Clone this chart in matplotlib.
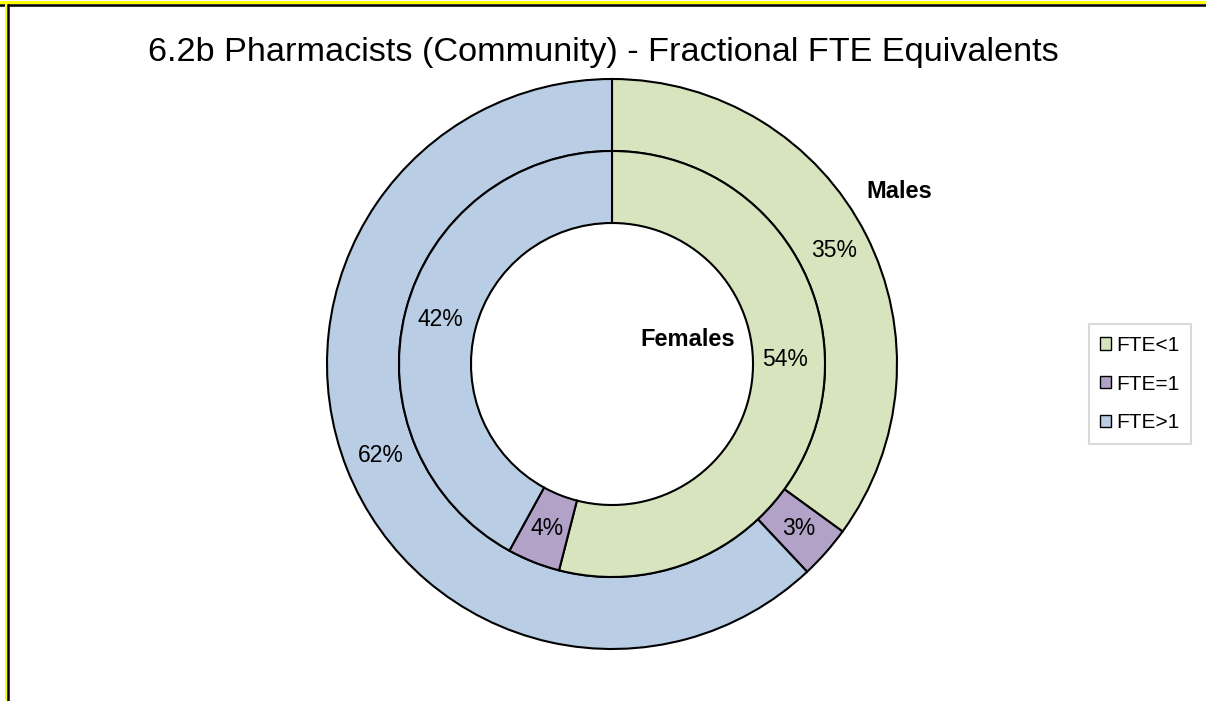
import matplotlib.pyplot as plt
from matplotlib.patches import Patch
from matplotlib.lines import Line2D

plt.rcParams['font.family'] = ['Liberation Sans', 'DejaVu Sans']

categories = ['FTE<1', 'FTE=1', 'FTE>1']
females = [54, 4, 42]
males = [35, 3, 62]
colors = ['#D7E4BD', '#B3A2C7', '#B9CDE5']

W, H = 1206, 701
fig = plt.figure(figsize=(W / 100, H / 100), dpi=100)
ax = fig.add_axes([0, 0, 1, 1])
ax.set_xlim(0, W)
ax.set_ylim(0, H)
ax.set_aspect('equal')
ax.axis('off')

cx, cy = 612, H - 364
r_out, ring = 285, 72
r_in = r_out - ring

wedge_kw = dict(edgecolor='black', linewidth=1.5)
ax.pie(males, colors=colors, radius=r_out, center=(cx, cy), startangle=90,
       counterclock=False, autopct='%d%%', pctdistance=(r_out - ring / 2) / r_out,
       wedgeprops=dict(width=ring, **wedge_kw), textprops=dict(fontsize=16.5))
_, _, ftexts = ax.pie(females, colors=colors, radius=r_in, center=(cx, cy), startangle=90,
                      counterclock=False, autopct='%d%%', pctdistance=(r_in - ring / 2) / r_in,
                      wedgeprops=dict(width=ring, **wedge_kw), textprops=dict(fontsize=16.5))
ax.set_xlim(0, W)
ax.set_ylim(0, H)

# Excel nudges the 54% label up, next to "Females"
ftexts[0].set_position((cx + 173, cy + 5))

ax.text(899, H - 192, 'Males', fontsize=17, fontweight='bold', ha='center', va='center')
ax.text(688, H - 340, 'Females', fontsize=17, fontweight='bold', ha='center', va='center')

fig.text(0.5, 1 - 52 / H, '6.2b Pharmacists (Community) - Fractional FTE Equivalents',
         fontsize=24.7, ha='center', va='center')

handles = [Patch(facecolor=c, edgecolor='black', linewidth=1) for c in colors]
leg = fig.legend(handles, categories, loc='center', bbox_to_anchor=(1140 / W, 1 - 384 / H),
                 fontsize=15, handlelength=0.55, handleheight=0.55, handletextpad=0.25,
                 labelspacing=0.95, borderpad=0.55, borderaxespad=0, fancybox=False,
                 framealpha=1)
leg.get_frame().set_edgecolor('#D9D9D9')
leg.get_frame().set_linewidth(1.5)

# frame lines on top and left edges
fig.add_artist(Line2D([0, 1], [1 - 1.5 / H, 1 - 1.5 / H], color='#FFFF00', lw=2.2))
fig.add_artist(Line2D([0, 1], [1 - 4.5 / H, 1 - 4.5 / H], color='black', lw=1.8))
fig.add_artist(Line2D([5.5 / W, 5.5 / W], [0, 1 - 1.5 / H], color='#FFFF00', lw=2.2))
fig.add_artist(Line2D([8 / W, 8 / W], [0, 1 - 4.5 / H], color='black', lw=1.8))

fig.savefig('out.png', dpi=100, facecolor='white')
